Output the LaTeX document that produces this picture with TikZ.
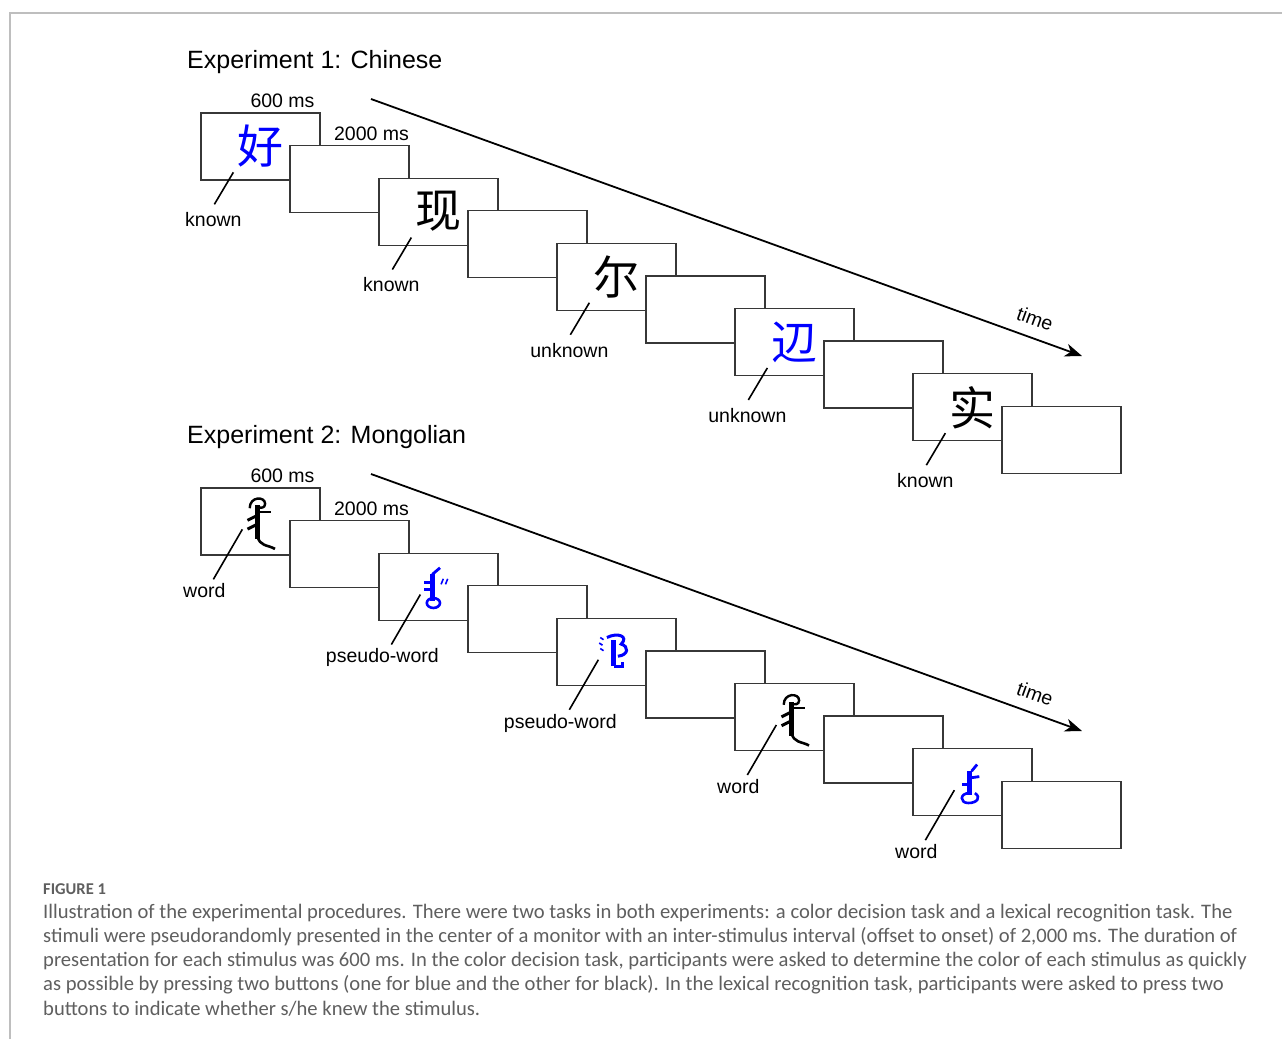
\documentclass[tikz,border=0pt]{standalone}
\usepackage{fontspec}
\setmainfont{Liberation Sans}
\newfontfamily\cjkfont{Noto Sans CJK SC}
\newfontfamily\capfont{Carlito}
\usepackage{tikz}
\usetikzlibrary{arrows.meta,positioning,calc}
\definecolor{stimblue}{RGB}{0,0,255}
\definecolor{boxgray}{RGB}{55,55,55}
\definecolor{capgray}{RGB}{95,95,95}
\definecolor{framegray}{RGB}{190,190,190}
\tikzset{screen/.style={rectangle, draw=boxgray, line width=1.3pt, fill=white, minimum width=119pt, minimum height=67pt, inner sep=0pt}, stimchar/.style={font=\cjkfont\fontsize{46}{46}\selectfont, inner sep=0pt}, cue/.style={font=\fontsize{19.5}{21}\selectfont, inner sep=1pt}, title/.style={font=\fontsize{25}{27}\selectfont, inner sep=1pt}, tick/.style={line width=1.6pt, draw=black}, timearrow/.style={-{Stealth[length=17pt, width=13pt, inset=5pt]}, line width=1.8pt, draw=black}, captext/.style={font=\capfont\fontsize{20.6}{22}\selectfont, text=capgray, inner sep=0pt}, capfig/.style={font=\capfont\bfseries\fontsize{16.5}{18}\selectfont, text=capgray, inner sep=0pt}}
\tikzset{glyphA/.pic={\fill (-3.5,-16) rectangle (1.5,15); \draw[line width=2.4pt] (-8,-13) .. controls (-8,-24) and (6,-24) .. (6,-17) .. controls (6,-13) and (2,-13) .. (-1,-14); \draw[line width=2pt] (-3,-10) -- (11,-10); \draw[line width=3pt] (-2,-6) -- (-10,-2); \draw[line width=3pt] (-2,2) -- (-10,6); \draw[line width=2.6pt] (-1,12) .. controls (1,22) and (8,20) .. (15,24);}, glyphB/.pic={\fill (-4.5,-13) rectangle (0.5,11); \draw[line width=2.8pt] (-2,-13) -- (5,-19); \draw[line width=3pt] (-4,-6) -- (-10,-6); \draw[line width=3pt] (-4,1) -- (-10,1); \draw[line width=2.6pt] (-1,13) ellipse (6pt and 4.5pt); \draw[line width=1.6pt] (6,-4) -- (8,-9) (10,-4) -- (12,-9);}, glyphC/.pic={\draw[line width=3pt] (-6,-14) .. controls (4,-19) and (14,-15) .. (7,-8) .. controls (14,-6) and (14,2) .. (4,3); \fill (-2.5,-12) rectangle (2.5,12); \draw[line width=3pt] (0,12) -- (8,12) -- (8,8); \draw[line width=1.6pt] (-12,-14) -- (-9,-12) (-13,-9) -- (-10,-7) (-12,-4) -- (-9,-2);}, glyphE/.pic={\fill (-3.5,-12) rectangle (1.5,10); \draw[line width=2.8pt] (1,-12) -- (6,-18); \draw[line width=2.8pt] (1,-6) -- (8,-7); \draw[line width=2.6pt] (-1,8) .. controls (-10,8) and (-10,17) .. (-2,17) .. controls (6,17) and (10,12) .. (4,8); \draw[line width=2.8pt] (-3,0) -- (-8,0);}}
\begin{document}
\begin{tikzpicture}[x=1pt, y=-1pt]
\useasboundingbox (0,0) rectangle (1282,1039);
\fill[white] (0,0) rectangle (1282,1039);
\draw[framegray, line width=1.5pt] (10,1039) -- (10,13) -- (1282,13);
\node[title, anchor=west] (t1) at (186,62) {Experiment 1: Chinese};
\node[title, anchor=west] (t2) at (186,437) {Experiment 2: Mongolian};
% experiment 1
\foreach \i/\ch/\col/\lab in {1/好/stimblue/known,2/现/black/known,3/尔/black/unknown,4/辺/stimblue/unknown,5/实/black/known} {
\node[screen] (s\i) at ({82.5+178*\i},{81.3+65.2*\i}) {};
\node[stimchar, text=\col] (c\i) at (s\i) {\ch};
\coordinate (p\i) at ([shift={(33,60)}]s\i.north west);
\coordinate (q\i) at ([shift={(14,92)}]s\i.north west);
\node[cue, anchor=north] (l\i) at ([shift={(-1,7)}]q\i) {\lab};
\draw[tick] (p\i) -- (q\i);
\node[screen] (b\i) at ([shift={(89,32.5)}]s\i) {};
}
\node[cue, anchor=south] (d1) at ([shift={(22,-3)}]s1.north) {600 ms};
\node[cue, anchor=south] (w1) at ([shift={(22,-3)}]b1.north) {2000 ms};
\coordinate (a1) at (371,99);
\coordinate (e1) at (1082,356);
\draw[timearrow] (a1) -- node[cue, pos=0.925, above=10pt, sloped] (time1) {time} (e1);
% experiment 2
\foreach \i/\lab in {1/word,2/pseudo-word,3/pseudo-word,4/word,5/word} {
\node[screen] (m\i) at ({82.5+178*\i},{456.3+65.2*\i}) {};
\coordinate (u\i) at ([shift={(42,42)}]m\i.north west);
\coordinate (v\i) at ([shift={(13,92)}]m\i.north west);
\node[cue, anchor=north] (k\i) at ([shift={(-9,3)}]v\i) {\lab};
\draw[tick] (u\i) -- (v\i);
\node[screen] (n\i) at ([shift={(89,32.5)}]m\i) {};
}
\pic[scale=1.1] at ([shift={(-2,1)}]m1) {glyphA};
\pic[color=stimblue, scale=1.1] at ([shift={(-4,2)}]m2) {glyphB};
\pic[color=stimblue, scale=1.1] at ([shift={(-3,1)}]m3) {glyphC};
\pic[scale=1.1] at ([shift={(-2,2)}]m4) {glyphA};
\pic[color=stimblue, scale=1.1] at ([shift={(-2,2)}]m5) {glyphE};
\node[cue, anchor=south] (d2) at ([shift={(22,-3)}]m1.north) {600 ms};
\node[cue, anchor=south] (w2) at ([shift={(22,-3)}]n1.north) {2000 ms};
\coordinate (a2) at (371,474);
\coordinate (e2) at (1082,731);
\draw[timearrow] (a2) -- node[cue, pos=0.925, above=10pt, sloped] (time2) {time} (e2);
% caption
\node[capfig, anchor=west] (fig) at (43,889) {FIGURE 1};
\foreach \k/\txt in {1/{Illustration of the experimental procedures. There were two tasks in both experiments: a color decision task and a lexical recognition task. The},2/{stimuli were pseudorandomly presented in the center of a monitor with an inter-stimulus interval (offset to onset) of 2,000 ms. The duration of},3/{presentation for each stimulus was 600 ms. In the color decision task, participants were asked to determine the color of each stimulus as quickly},4/{as possible by pressing two buttons (one for blue and the other for black). In the lexical recognition task, participants were asked to press two},5/{buttons to indicate whether s/he knew the stimulus.}} {\node[captext, anchor=west] (cap\k) at (43,{889+24*\k}) {\txt};}
\end{tikzpicture}
\end{document}
